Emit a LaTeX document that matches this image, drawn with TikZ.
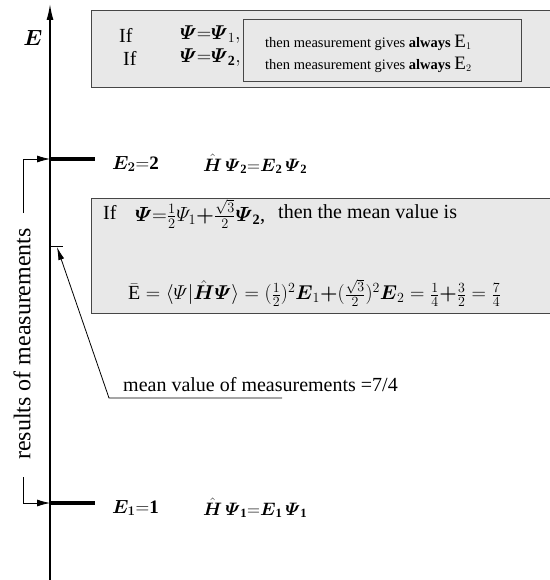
\RequirePackage{fix-cm}
\documentclass[tikz,border=0pt]{standalone}
\usepackage{amsmath,amssymb}
\usepackage{fontspec}
\setmainfont{Liberation Serif}
\usetikzlibrary{arrows.meta}
\definecolor{boxfill}{RGB}{232,232,232}
\definecolor{boxline}{RGB}{70,70,70}
\tikzset{
  gbox/.style={draw=boxline, line width=1.2pt, fill=boxfill, inner sep=0pt, anchor=north west},
  ibox/.style={draw=boxline, line width=0.8pt, fill=boxfill, inner sep=0pt, anchor=north west},
  big/.style={font=\fontsize{20}{22}\selectfont, inner sep=0pt},
  mid/.style={font=\fontsize{18}{20}\selectfont, inner sep=0pt},
  small/.style={font=\fontsize{14.5}{16}\selectfont, inner sep=0pt},
  lvl/.style={font=\fontsize{19}{20}\selectfont, inner sep=0pt, anchor=west},
  level/.style={line width=4pt},
  markarrow/.style={line width=0.8pt, -{Latex[length=13pt,width=7pt]}},
}
\newcommand{\beq}{{\mathbf{=}}}
\newcommand{\bpl}{{\boldsymbol{+}}}
\begin{document}
\begin{tikzpicture}[x=1pt,y=-1pt]
\useasboundingbox (0,0) rectangle (549,580);
% axis
\coordinate (axbot) at (50,580);
\coordinate (axtop) at (50,4);
\draw[line width=1.4pt, -{Latex[length=16pt,width=7pt]}] (axbot) -- (axtop);
\node[font=\fontsize{22}{22}\selectfont] (Elab) at (33,38) {$\boldsymbol{E}$};

% top box
\node[gbox, minimum width=462pt, minimum height=77pt] (topbox) at (91,10) {};
\node[ibox, minimum width=278pt, minimum height=62pt] (inbox) at (243,19) {};
\node[big, anchor=west] (if1) at (119,35) {If};
\node[big, anchor=west] (if2) at (123,58) {If};
\node[font=\fontsize{20}{20}\selectfont, inner sep=0pt, anchor=west] (p1) at (180,35) {$\boldsymbol{\varPsi}\beq\boldsymbol{\varPsi}_1\mathbf{,}$};
\node[font=\fontsize{20}{20}\selectfont, inner sep=0pt, anchor=west] (p2) at (180,58) {$\boldsymbol{\varPsi}\beq\boldsymbol{\varPsi}_{\mathbf 2}\mathbf{,}$};
\node[small, anchor=west] (t1) at (265,43) {then measurement gives \textbf{always} {\fontsize{19}{19}\selectfont E}$_1$};
\node[small, anchor=west] (t2) at (265,65) {then measurement gives \textbf{always} {\fontsize{19}{19}\selectfont E}$_2$};

% level E2
\coordinate (lev2) at (50,159);
\coordinate (lev2e) at (95,159);
\draw[level] (lev2) -- (lev2e);
\node[lvl] (E2) at (112,164) {$\boldsymbol{E_2}\beq\mathbf{2}$};
\node[lvl, font=\fontsize{18}{20}\selectfont] (H2) at (203,164) {$\hat{\boldsymbol{H}}\,\boldsymbol{\varPsi}_{\mathbf 2}\beq\boldsymbol{E}_{\mathbf 2}\,\boldsymbol{\varPsi}_{\mathbf 2}$};

% level E1
\coordinate (lev1) at (50,503);
\coordinate (lev1e) at (95,503);
\draw[level] (lev1) -- (lev1e);
\node[lvl] (E1) at (112,508) {$\boldsymbol{E_1}\beq\mathbf{1}$};
\node[lvl, font=\fontsize{18}{20}\selectfont] (H1) at (203,508) {$\hat{\boldsymbol{H}}\,\boldsymbol{\varPsi}_{\mathbf 1}\beq\boldsymbol{E}_{\mathbf 1}\,\boldsymbol{\varPsi}_{\mathbf 1}$};

% results of measurements
\node[font=\fontsize{24}{24}\selectfont, rotate=90, inner sep=0pt] (res) at (22,344) {results of measurements};
\coordinate (r2) at (23,213);
\coordinate (r1) at (23,477);
\draw[markarrow] (r2) |- (lev2);
\draw[markarrow] (r1) |- (lev1);

% middle box
\node[gbox, line width=1pt, minimum width=462pt, minimum height=115pt] (midbox) at (91,198) {};
\node[big, anchor=west] (mif) at (103,212) {If};
\node[font=\fontsize{20.5}{22}\selectfont, inner sep=0pt, anchor=west] (mpsi) at (135,214) {$\boldsymbol{\varPsi}\beq\tfrac12\varPsi_1\bpl\tfrac{\sqrt3}{2}\boldsymbol{\varPsi}_{\mathbf 2}$,};
\node[big, anchor=west] (mthen) at (278,212) {then the mean value is};
\node[font=\fontsize{20}{22}\selectfont, inner sep=0pt, anchor=west] (mform) at (128,293) {$\bar{\mathrm{E}} \mathrel{=}\langle\varPsi|\hat{\boldsymbol{H}}\boldsymbol{\varPsi}\rangle\mathrel{=}(\tfrac12)^2\boldsymbol{E}_1\bpl(\tfrac{\sqrt3}{2})^2\boldsymbol{E}_2\mathrel{=}\tfrac14\bpl\tfrac32\mathrel{=}\tfrac74$};

% mean value marker
\coordinate (mv) at (50,246);
\coordinate (mvt) at (63,246);
\draw[line width=0.8pt] (mv) -- (mvt);
\coordinate (mvtip) at (57,247);
\coordinate (ldr) at (109,398);
\coordinate (ldre) at (282,398);
\draw[line width=0.8pt, -{Latex[length=13pt,width=6pt]}] (ldre) -- (ldr) -- (mvtip);
\node[font=\fontsize{20}{22}\selectfont, inner sep=0pt, anchor=west] (mvlab) at (123,385) {mean value of measurements =7/4};
\end{tikzpicture}
\end{document}
